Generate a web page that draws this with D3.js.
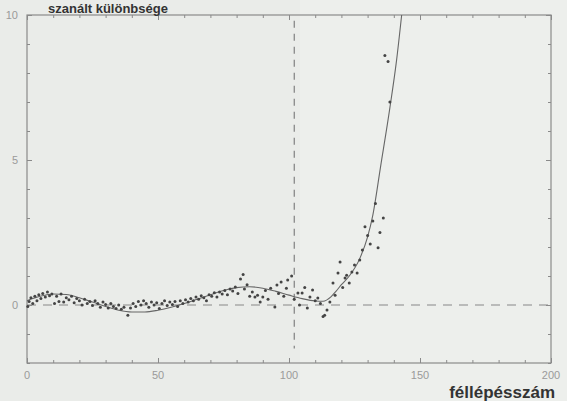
<!DOCTYPE html>
<html><head><meta charset="utf-8">
<script src="https://cdn.jsdelivr.net/npm/d3@7"></script>
<style>body{margin:0;background:#edefec;}svg{display:block;}</style>
</head><body>
<svg id="c" width="567" height="401"></svg>
<script>
// ---- data ----
const titleText = "szanált különbsége";
const xLabel = "féllépésszám";
const xTickLabels = [0, 50, 100, 150, 200];
const yTickLabels = [0, 5, 10];
const markerX = 102;

// scatter points
const pointX = [0.3,0.8,1.5,2.2,3,3.8,4.5,5.3,6,7,7.8,8.6,9.5,10.5,11.3,12.2,
 13,14,15,16,17,18,19,20,21,22,23,24,25,26,27,28,29,30,31,32,33,34,35,36,37,38.5,
 39.5,40.5,41.5,42.5,43.5,44.5,45.5,46.5,47.5,48.5,49.5,50.5,51.5,52.5,53.5,54.5,55.5,56.5,57.5,58.5,59.5,60.5,
 61.5,62.5,63.5,64.5,65.5,66.5,67.5,68.5,69.5,70.5,71.5,72.5,73.5,74.5,75.5,76.5,77.5,78.5,79.5,80.5,81.5,82.5,83,84,85,86,
 87,88,89,90,91,92,93,94.6,95.4,96,97,98,99,99.5,101,102,103.4,104,105,106,107,108,109,110,111,112,113,113.6,114.5,115.6,116.8,117.6,118.7,119.5,120.5,121.4,122,123,124,125,126,127,128,129,130,131,132,133,134,134.7,136,136.6,137.8,138.5];
const pointY = [-0.05,0.12,0.25,0.05,0.3,0.15,0.35,0.22,0.4,0.28,0.45,0.32,0.38,0.05,0.3,0.12,
 0.38,0.1,0.25,0.18,0.3,0.08,0.22,0.15,0.0,0.2,0.05,0.12,-0.02,0.15,0.05,-0.08,0.1,0.02,-0.1,0.05,-0.05,-0.12,0.0,-0.15,-0.08,-0.35,
 -0.1,0.05,-0.05,0.12,0.0,0.15,0.05,-0.08,0.1,0.0,0.08,-0.12,0.05,0.15,-0.02,0.1,0.02,0.12,-0.05,0.15,0.05,0.18,
 0.1,0.22,0.15,0.28,0.2,0.32,0.25,0.15,0.35,0.3,0.42,0.28,0.45,0.38,0.5,0.35,0.55,0.48,0.62,0.4,0.9,1.05,0.55,0.7,0.3,0.45,
 0.28,0.34,0.1,0.28,0.5,0.2,0.58,-0.07,0.69,0.4,0.79,0.3,0.58,0.86,1.0,0.2,0.41,0.0,0.41,0.6,-0.1,0.28,0.52,0.15,0.24,0.05,-0.4,-0.35,-0.17,0.1,0.76,0.34,1.1,1.48,0.6,0.93,1.03,0.76,1.14,1.38,1.1,1.55,1.9,2.7,2.4,2.1,2.9,3.5,1.97,2.5,3.0,8.6,8.4,7.0];

// fitted curve
const curveX = [0,5,10,15,20,25,30,35,40,45,50,55,60,65,70,75,80,85,90,95,100,105,110,113,116,118,120,123,127,130,132,135,138.5,141,143];
const curveY = [0.15,0.3,0.38,0.36,0.25,0.1,-0.05,-0.18,-0.24,-0.24,-0.18,-0.08,0.05,0.2,0.35,0.5,0.6,0.63,0.58,0.47,0.34,0.22,0.14,0.13,0.28,0.48,0.7,1.0,1.6,2.35,3.1,4.8,6.8,8.4,10];

// ---- drawing ----
const svg = d3.select("#c");
const L = 27, R = 551, T = 15, B = 363;
const x = d3.scaleLinear().domain([0, 200]).range([L, R]);
const y = d3.scaleLinear().domain([-2, 10]).range([B, T]);
const ink = "#8a8a8a";

svg.append("rect").attr("width", 567).attr("height", 401).attr("fill", "#edefec");
svg.append("rect").attr("x", 0).attr("y", 0).attr("width", 300).attr("height", 401).attr("fill", "#e7eae8").attr("opacity", 0.6);

// frame
svg.append("rect").attr("x", L).attr("y", T).attr("width", R - L).attr("height", B - T)
  .attr("fill", "none").attr("stroke", ink).attr("stroke-width", 1.2);

// axes with inward ticks
const xt = d3.range(0, 201, 10);
const yt = d3.range(-2, 11, 1);
const gB = svg.append("g").attr("transform", `translate(0,${B})`)
  .call(d3.axisTop(x).tickValues(xt).tickSize(3).tickFormat(""));
const gT = svg.append("g").attr("transform", `translate(0,${T})`)
  .call(d3.axisBottom(x).tickValues(xt).tickSize(3).tickFormat(""));
const gL = svg.append("g").attr("transform", `translate(${L},0)`)
  .call(d3.axisRight(y).tickValues(yt).tickSize(3).tickFormat(""));
const gR = svg.append("g").attr("transform", `translate(${R},0)`)
  .call(d3.axisLeft(y).tickValues(yt).tickSize(3).tickFormat(""));
[gB, gT, gL, gR].forEach(g => {
  g.select(".domain").remove();
  g.selectAll("line").attr("stroke", ink).attr("stroke-width", 1);
});
gB.selectAll(".tick line").filter(d => d % 50 === 0).attr("y2", -5);
gT.selectAll(".tick line").filter(d => d % 50 === 0).attr("y2", 5);
gL.selectAll(".tick line").filter(d => d % 5 === 0).attr("x2", 5);
gR.selectAll(".tick line").filter(d => d % 5 === 0).attr("x2", -5);

// tick labels
svg.append("g").selectAll("text").data(xTickLabels).join("text")
  .attr("x", d => x(d)).attr("y", 379).attr("text-anchor", "middle")
  .attr("font-family", "Liberation Sans, Arial, sans-serif").attr("font-size", 11)
  .attr("fill", "#9a9a9a").text(d => d);
svg.append("g").selectAll("text").data(yTickLabels).join("text")
  .attr("x", 18).attr("y", d => y(d) + 4).attr("text-anchor", "end")
  .attr("font-family", "Liberation Sans, Arial, sans-serif").attr("font-size", 11)
  .attr("fill", "#9a9a9a").text(d => d);

// reference lines
svg.append("line").attr("x1", x(0)).attr("x2", x(200)).attr("y1", y(0)).attr("y2", y(0))
  .attr("stroke", "#888").attr("stroke-width", 1.2).attr("stroke-dasharray", "9,7");
svg.append("line").attr("x1", x(markerX)).attr("x2", x(markerX)).attr("y1", y(9.8)).attr("y2", y(-1.5))
  .attr("stroke", "#777").attr("stroke-width", 1.1).attr("stroke-dasharray", "7,6");

// curve
const curvePts = curveX.map((d, i) => [d, curveY[i]]);
svg.append("path").datum(curvePts)
  .attr("d", d3.line().x(d => x(d[0])).y(d => y(d[1])).curve(d3.curveMonotoneX))
  .attr("fill", "none").attr("stroke", "#666").attr("stroke-width", 1.1);

// points
svg.append("g").selectAll("circle").data(pointX.map((d, i) => [d, pointY[i]])).join("circle")
  .attr("cx", d => x(d[0])).attr("cy", d => y(d[1])).attr("r", 1.5).attr("fill", "#444");

// titles
svg.append("text").attr("x", 48).attr("y", 13)
  .attr("font-family", "Liberation Sans, Arial, sans-serif").attr("font-weight", "bold")
  .attr("font-size", 13).attr("fill", "#333").text(titleText);
svg.append("text").attr("x", 555).attr("y", 398).attr("text-anchor", "end")
  .attr("font-family", "Liberation Sans, Arial, sans-serif").attr("font-weight", "bold")
  .attr("font-size", 17).attr("fill", "#333").text(xLabel);
</script>
</body></html>
